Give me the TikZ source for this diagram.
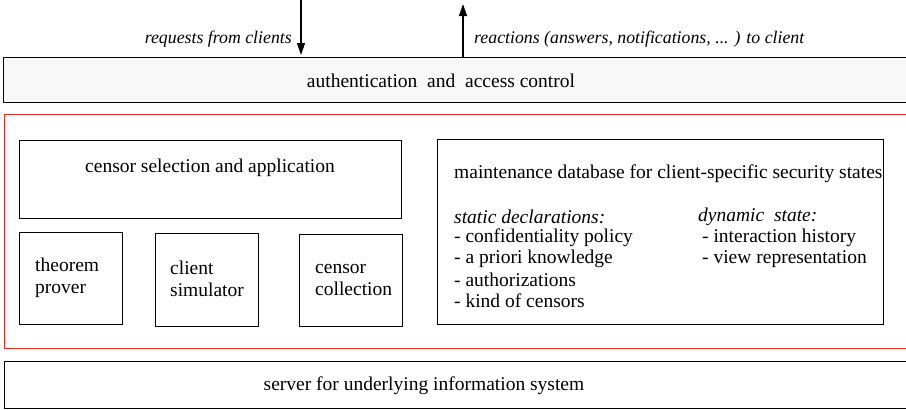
\documentclass[tikz,border=0pt]{standalone}
\usepackage{fontspec}
\setmainfont{Liberation Serif}
\usetikzlibrary{arrows.meta}
\definecolor{redline}{RGB}{228,45,35}
\definecolor{topfill}{RGB}{248,248,248}
\begin{document}
\begin{tikzpicture}[x=1pt,y=-1pt,
  box/.style={draw=black,line width=1.3pt,anchor=north west,inner sep=0pt},
  redbox/.style={draw=redline,line width=1pt,anchor=north west,inner sep=0pt},
  txt/.style={font=\fontsize{19.5}{22}\selectfont,inner sep=0pt,align=left},
  lbl/.style={font=\fontsize{17.8}{20}\selectfont\itshape,inner sep=0pt},
  arr/.style={line width=1.3pt,-{Triangle[length=12pt,width=8pt]}}]
\useasboundingbox (0,0) rectangle (906,410);
\clip (0,0) rectangle (906,410);
% top box
\node[box,fill=topfill,minimum width=912pt,minimum height=45pt] (auth) at (3,57) {};
\node[txt] (authtxt) at (441,81) {authentication\ \ and\ \ access control};
% arrows
\coordinate (reqtop) at (301,0);
\coordinate (reacttop) at (463,4);
\draw[arr,shorten >=2pt] (reqtop) -- (reqtop |- auth.north);
\draw[arr] (reacttop |- auth.north) -- (reacttop);
\node[lbl,anchor=east] (req) at (292,39) {requests from clients};
\node[lbl,anchor=west] (react) at (474,39) {reactions (answers, notifications, ... ) to client};
% red core
\node[redbox,minimum width=920pt,minimum height=234pt] (core) at (4,114) {};
\node[box,minimum width=382pt,minimum height=78pt] (sel) at (19,140) {};
\node[txt] (seltxt) at (210,168) {censor selection and application};
\node[box,minimum width=103pt,minimum height=92pt] (thm) at (19,232) {};
\node[txt,anchor=west] (thmtxt) at (35,278) {theorem\\prover};
\node[box,minimum width=103pt,minimum height=93pt] (sim) at (155,233) {};
\node[txt,anchor=west] (simtxt) at (170,279) {client\\simulator};
\node[box,minimum width=103pt,minimum height=92pt] (col) at (299,234) {};
\node[txt,anchor=west] (coltxt) at (315,280) {censor\\collection};
% maintenance
\node[box,minimum width=446pt,minimum height=185pt] (db) at (437,139) {};
\node[txt,anchor=west] (dbtitle) at (454,174) {maintenance database for client-specific security states};
\node[txt,anchor=west] (stat) at (454,217) {\itshape static declarations:};
\node[txt,anchor=west] (s1) at (454,238) {- confidentiality policy};
\node[txt,anchor=west] (s2) at (454,259) {- a priori knowledge};
\node[txt,anchor=west] (s3) at (454,280) {- authorizations};
\node[txt,anchor=west] (s4) at (454,301) {- kind of censors};
\node[txt,anchor=west] (dyn) at (698,217) {\itshape dynamic\ \ state:};
\node[txt,anchor=west] (d1) at (702,238) {- interaction history};
\node[txt,anchor=west] (d2) at (702,259) {- view representation};
% bottom
\node[box,minimum width=920pt,minimum height=47pt] (srv) at (4,361) {};
\node[txt] (srvtxt) at (424,386) {server for underlying information system};
\end{tikzpicture}
\end{document}
